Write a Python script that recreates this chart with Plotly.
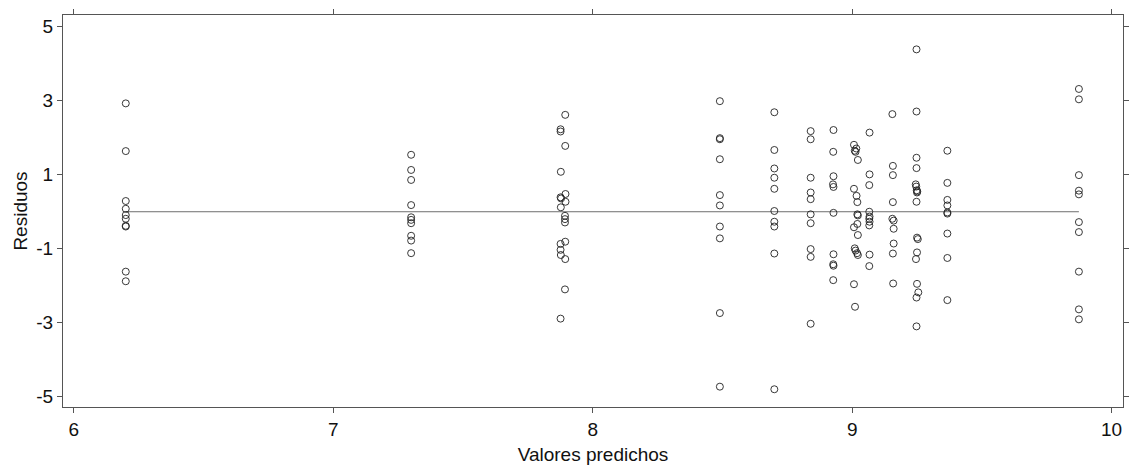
import plotly.graph_objects as go

# Valores predichos (x) y residuos (y) del modelo, agrupados por valor ajustado
predichos = (
    [6.20] * 10
    + [7.30] * 10
    + [7.894, 7.876, 7.876, 7.894, 7.877, 7.895, 7.876, 7.878, 7.895, 7.877,
       7.893, 7.893, 7.893, 7.894, 7.876, 7.876, 7.877, 7.894, 7.893, 7.876]
    + [8.49] * 10
    + [8.70] * 10
    + [8.84] * 10
    + [8.928, 8.927, 8.928, 8.926, 8.928, 8.928, 8.928, 8.927, 8.928, 8.927]
    + [9.007, 9.016, 9.010, 9.013, 9.022, 9.007, 9.017, 9.020, 9.020, 9.022,
       9.020, 9.007, 9.022, 9.010, 9.013, 9.019, 9.022, 9.007, 9.011]
    + [9.067, 9.067, 9.066, 9.066, 9.067, 9.066, 9.067, 9.066, 9.067, 9.066]
    + [9.155, 9.157, 9.157, 9.157, 9.155, 9.160, 9.160, 9.160, 9.157, 9.158]
    + [9.248, 9.248, 9.248, 9.248, 9.245, 9.247, 9.249, 9.251, 9.250, 9.248,
       9.250, 9.253, 9.250, 9.246, 9.250, 9.255, 9.248, 9.248]
    + [9.367] * 9
    + [9.874] * 10
)

residuos = (
    [2.93, 1.64, 0.29, 0.08, -0.09, -0.19, -0.38, -0.40, -1.62, -1.88]
    + [1.54, 1.13, 0.86, 0.18, -0.15, -0.22, -0.31, -0.65, -0.78, -1.12]
    + [2.62, 2.23, 2.17, 1.78, 1.08, 0.48, 0.39, 0.36, 0.27, 0.12,
       -0.11, -0.20, -0.29, -0.81, -0.87, -1.03, -1.17, -1.28, -2.10, -2.89]
    + [2.99, 1.99, 1.96, 1.42, 0.45, 0.17, -0.40, -0.72, -2.74, -4.73]
    + [2.69, 1.67, 1.17, 0.92, 0.62, 0.02, -0.27, -0.40, -1.13, -4.80]
    + [2.18, 1.96, 0.92, 0.52, 0.34, -0.07, -0.31, -1.01, -1.22, -3.03]
    + [2.21, 1.62, 0.96, 0.74, 0.67, -0.03, -1.15, -1.42, -1.46, -1.85]
    + [1.81, 1.71, 1.65, 1.62, 1.40, 0.62, 0.43, 0.26, -0.07, -0.10,
       -0.33, -0.42, -0.63, -0.99, -1.05, -1.12, -1.17, -1.96, -2.57]
    + [2.14, 1.01, 0.72, 0.00, -0.13, -0.19, -0.27, -0.37, -1.16, -1.47]
    + [2.64, 1.24, 0.99, 0.26, -0.19, -0.24, -0.46, -0.86, -1.13, -1.94]
    + [4.39, 2.71, 1.46, 1.18, 0.74, 0.68, 0.58, 0.55, 0.52, 0.27,
       -0.70, -0.74, -1.10, -1.28, -1.95, -2.18, -2.32, -3.10]
    + [1.65, 0.78, 0.32, 0.17, -0.02, -0.05, -0.59, -1.25, -2.39]
    + [3.32, 3.04, 0.99, 0.57, 0.47, -0.28, -0.55, -1.62, -2.64, -2.91]
)

x_ticks = [6, 7, 8, 9, 10]
y_ticks = [-5, -3, -1, 1, 3, 5]
y_tick_labels = ["-5", "-3", "-1", "1", "3", "5"]

FONT = "Liberation Sans, Arial, sans-serif"

fig = go.Figure()

# Línea de referencia en residuo cero, a lo largo del rango de predichos
fig.add_trace(go.Scatter(
    x=[min(predichos), max(predichos)],
    y=[0, 0],
    mode="lines",
    line=dict(color="#6e6e6e", width=1),
    hoverinfo="skip",
    showlegend=False,
))

fig.add_trace(go.Scatter(
    x=predichos,
    y=residuos,
    mode="markers",
    marker=dict(
        symbol="circle-open",
        size=7,
        color="#222222",
        line=dict(width=0.9, color="#222222"),
    ),
    showlegend=False,
))

axis_common = dict(
    showline=True,
    linecolor="#555555",
    linewidth=1,
    mirror="allticks",
    ticks="outside",
    ticklen=5,
    tickcolor="#555555",
    tickwidth=1,
    showgrid=False,
    zeroline=False,
    automargin=False,
    tickfont=dict(family=FONT, size=19, color="#111111"),
)

fig.update_xaxes(
    range=[5.958, 10.044],
    tickvals=x_ticks,
    title=dict(text="Valores predichos", standoff=8,
               font=dict(family=FONT, size=19, color="#111111")),
    **axis_common,
)
fig.update_yaxes(
    range=[-5.28, 5.32],
    tickvals=y_ticks,
    ticktext=y_tick_labels,
    title=dict(text="Residuos", standoff=3,
               font=dict(family=FONT, size=19, color="#111111")),
    **axis_common,
)

fig.update_layout(
    width=1132,
    height=471,
    margin=dict(l=63, r=9, t=15, b=64),
    paper_bgcolor="white",
    plot_bgcolor="white",
    font=dict(family=FONT, size=19, color="#111111"),
)

fig.write_html("out.html")
